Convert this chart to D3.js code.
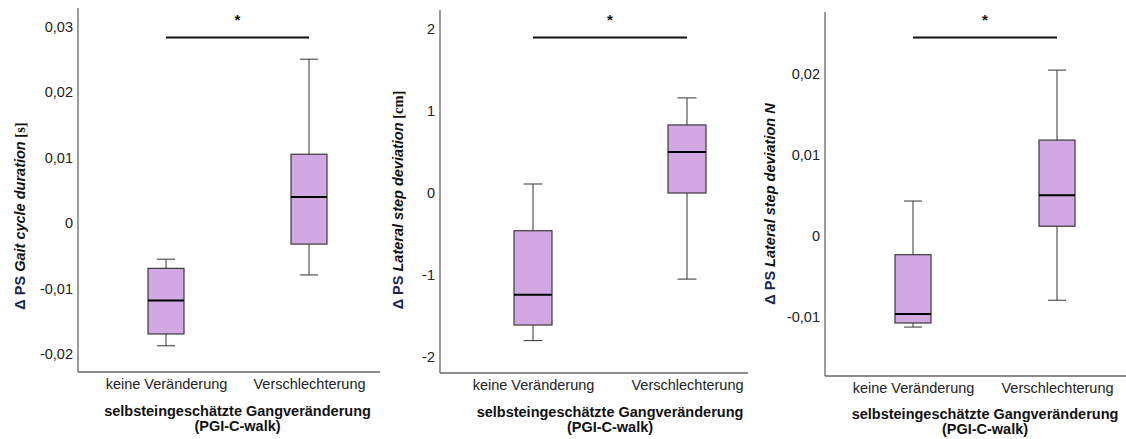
<!DOCTYPE html>
<html>
<head>
<meta charset="utf-8">
<script src="https://cdn.jsdelivr.net/npm/d3@7"></script>
<style>
  body { margin: 0; background: #fff; }
  svg { display: block; font-family: "Liberation Sans", Arial, sans-serif; }
</style>
</head>
<body>
<div id="chart"></div>
<script>
// categories and data
const categories = ["keine Veränderung", "Verschlechterung"];
const xTitle = ["selbsteingeschätzte Gangveränderung", "(PGI-C-walk)"];

// box stats per category: [whiskerLow, q1, median, q3, whiskerHigh]
const gaitBoxes = [
  [-0.0187, -0.0169, -0.0118, -0.0069, -0.0055],
  [-0.0079, -0.0032, 0.0040, 0.0105, 0.0250]
];
const lateralBoxes = [
  [-1.80, -1.61, -1.24, -0.46, 0.11],
  [-1.05, 0.00, 0.50, 0.83, 1.16]
];
const lateralNBoxes = [
  [-0.0112, -0.0107, -0.0096, -0.0023, 0.0043],
  [-0.0079, 0.0012, 0.0050, 0.0118, 0.0204]
];

const gaitTicks = [-0.02, -0.01, 0, 0.01, 0.02, 0.03];
const lateralTicks = [-2, -1, 0, 1, 2];
const lateralNTicks = [-0.01, 0, 0.01, 0.02];

const panels = [
  {
    boxes: gaitBoxes, ticks: gaitTicks, domain: [-0.0227, 0.0328],
    label: [["Δ PS ", "delta"], ["Gait cycle duration", "it"], [" [s]", "serif"]],
    axisX: 78, right: 380, top: 8, bottom: 372, centers: [166, 309], boxW: 36,
    labelX: 25, labelY: 216, titleY: 416, catPad: 7
  },
  {
    boxes: lateralBoxes, ticks: lateralTicks, domain: [-2.195, 2.232],
    label: [["Δ PS ", "delta"], ["Lateral step deviation", "it"], [" [cm]", "serif"]],
    axisX: 440, right: 748, top: 10, bottom: 373, centers: [533, 687], boxW: 38,
    labelX: 403, labelY: 200, titleY: 417, catPad: 7
  },
  {
    boxes: lateralNBoxes, ticks: lateralNTicks, domain: [-0.01722, 0.02755],
    label: [["Δ PS ", "delta"], ["Lateral step deviation N", "it"]],
    axisX: 825, right: 1126, top: 12, bottom: 376, centers: [913, 1057], boxW: 36,
    labelX: 775, labelY: 204, titleY: 419, catPad: 7
  }
];

const W = 1126, H = 439;
const fmt = v => (v === 0 ? "0" : d3.format(".2~f")(v).replace(".", ",").replace("−", "-"));
const fmtInt = v => d3.format("d")(v).replace("−", "-");

const svg = d3.select("#chart").append("svg")
  .attr("width", W).attr("height", H);

panels.forEach((p, i) => {
  const g = svg.append("g");
  const y = d3.scaleLinear().domain(p.domain).range([p.bottom, p.top]);
  const x = d3.scalePoint().domain(categories).range(p.centers);

  // y axis
  const yAxis = d3.axisLeft(y)
    .tickValues(p.ticks)
    .tickSize(0).tickPadding(5)
    .tickFormat(i === 1 ? fmtInt : fmt);
  const ya = g.append("g").attr("transform", `translate(${p.axisX},0)`).call(yAxis);
  ya.select(".domain").remove();
  ya.selectAll("text").attr("font-size", 14.5).attr("fill", "#222")
    .attr("font-family", "'Liberation Sans', Arial, sans-serif");

  g.append("line")
    .attr("x1", p.axisX).attr("x2", p.axisX)
    .attr("y1", p.top).attr("y2", p.bottom)
    .attr("stroke", "#666").attr("stroke-width", 1.3);

  // x axis
  const xAxis = d3.axisBottom(x).tickSize(0).tickPadding(p.catPad);
  const xa = g.append("g").attr("transform", `translate(0,${p.bottom})`).call(xAxis);
  xa.select(".domain").remove();
  xa.selectAll("text").attr("font-size", 14.5).attr("fill", "#222")
    .attr("font-family", "'Liberation Sans', Arial, sans-serif");
  g.append("line")
    .attr("x1", p.axisX).attr("x2", p.right)
    .attr("y1", p.bottom).attr("y2", p.bottom)
    .attr("stroke", "#666").attr("stroke-width", 1.3);

  // boxes
  const bw = p.boxW;
  const items = g.selectAll(".box").data(p.boxes).join("g").attr("class", "box")
    .attr("transform", (d, j) => `translate(${x(categories[j])},0)`);

  items.append("line")
    .attr("x1", 0).attr("x2", 0)
    .attr("y1", d => y(d[0])).attr("y2", d => y(d[4]))
    .attr("stroke", "#333").attr("stroke-width", 1);
  items.append("line")
    .attr("x1", -bw / 4).attr("x2", bw / 4)
    .attr("y1", d => y(d[0])).attr("y2", d => y(d[0]))
    .attr("stroke", "#333").attr("stroke-width", 1);
  items.append("line")
    .attr("x1", -bw / 4).attr("x2", bw / 4)
    .attr("y1", d => y(d[4])).attr("y2", d => y(d[4]))
    .attr("stroke", "#333").attr("stroke-width", 1);
  items.append("rect")
    .attr("x", -bw / 2).attr("width", bw)
    .attr("y", d => y(d[3])).attr("height", d => y(d[1]) - y(d[3]))
    .attr("fill", "#d2a8e2").attr("stroke", "#3a3a3a").attr("stroke-width", 1.2);
  items.append("line")
    .attr("x1", -bw / 2).attr("x2", bw / 2)
    .attr("y1", d => y(d[2])).attr("y2", d => y(d[2]))
    .attr("stroke", "#000").attr("stroke-width", 2);

  // significance bar
  const barY = 37.5;
  g.append("line")
    .attr("x1", x(categories[0])).attr("x2", x(categories[1]))
    .attr("y1", barY).attr("y2", barY)
    .attr("stroke", "#111").attr("stroke-width", 2.2);
  g.append("text")
    .attr("x", (x(categories[0]) + x(categories[1])) / 2)
    .attr("y", 25)
    .attr("text-anchor", "middle")
    .attr("font-size", 15).attr("font-weight", "bold").attr("fill", "#111")
    .text("*");

  // x title
  const cx = (x(categories[0]) + x(categories[1])) / 2;
  const xt = g.append("text")
    .attr("y", p.titleY)
    .attr("text-anchor", "middle")
    .attr("font-size", 14.5).attr("font-weight", "bold").attr("fill", "#111");
  xt.append("tspan").attr("x", cx).text(xTitle[0]);
  xt.append("tspan").attr("x", cx).attr("dy", 14.5).text(xTitle[1]);

  // y title
  const yt = g.append("text")
    .attr("transform", `translate(${p.labelX},${p.labelY}) rotate(-90)`)
    .attr("text-anchor", "middle")
    .attr("font-size", 14.5).attr("font-weight", "bold").attr("fill", "#111");
  p.label.forEach(([t, kind]) => {
    const s = yt.append("tspan").text(t);
    if (kind === "delta") s.attr("fill", "#1c2550");
    if (kind === "it") s.attr("font-style", "italic");
    if (kind === "serif") s.attr("font-family", "'Liberation Serif', 'Times New Roman', serif");
  });
});
</script>
</body>
</html>
